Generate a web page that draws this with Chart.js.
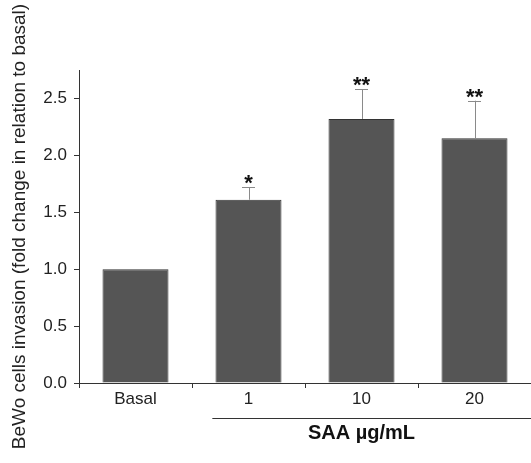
<!DOCTYPE html>
<html>
<head>
<meta charset="utf-8">
<script src="https://cdn.jsdelivr.net/npm/chart.js@4"></script>
<style>
  html, body { margin: 0; padding: 0; background: #fff; }
  #wrap { width: 531px; height: 463px; }
</style>
</head>
<body>
<div id="wrap"><canvas id="myChart" width="531" height="463"></canvas></div>
<script>
const categorias = ['Basal', '1', '10', '20'];
const medias = [1.0, 1.61, 2.32, 2.15];
const errores = [0, 0.11, 0.26, 0.33];
const estrellas = ['', '*', '**', '**'];
const yTicks = [0, 0.5, 1.0, 1.5, 2.0, 2.5];
const grupoTexto = 'SAA \u00b5g/mL';
const ejeY = 'BeWo cells invasion (fold change in relation to basal)';

const fuente = 'Arial, "Liberation Sans", sans-serif';
const ctx = document.getElementById('myChart');

// error bars, asterisks and the SAA group line below the axis
const extras = {
  id: 'extras',
  afterDatasetsDraw(chart) {
    const c = chart.ctx;
    const x = chart.scales.x, y = chart.scales.y;
    c.save();
    for (let i = 0; i < medias.length; i++) {
      const px = x.getPixelForValue(i);
      const top = y.getPixelForValue(medias[i]);
      let tope = top;
      if (errores[i] > 0) {
        tope = y.getPixelForValue(medias[i] + errores[i]);
        c.strokeStyle = '#8a8a8a';
        c.lineWidth = 1;
        c.beginPath();
        c.moveTo(Math.round(px) + 0.5, top);
        c.lineTo(Math.round(px) + 0.5, tope);
        c.moveTo(px - 6.5, Math.round(tope) + 0.5);
        c.lineTo(px + 6.5, Math.round(tope) + 0.5);
        c.stroke();
      }
      if (estrellas[i]) {
        c.fillStyle = '#111';
        c.font = 'bold 22px ' + fuente;
        c.textAlign = 'center';
        c.textBaseline = 'alphabetic';
        c.fillText(estrellas[i], px, tope + 3);
      }
    }
    // group line for SAA doses
    const ancho = x.getPixelForValue(1) - x.getPixelForValue(0);
    const x0 = x.getPixelForValue(1) - ancho * 0.32;
    const yl = Math.round(chart.chartArea.bottom + 35) + 0.5;
    c.strokeStyle = '#333';
    c.lineWidth = 1;
    c.beginPath();
    c.moveTo(x0, yl);
    c.lineTo(chart.width, yl);
    c.stroke();
    c.fillStyle = '#111';
    c.font = 'bold 20px ' + fuente;
    c.textAlign = 'center';
    c.textBaseline = 'middle';
    c.fillText(grupoTexto, x.getPixelForValue(2), yl + 15);
    c.restore();
  }
};

new Chart(ctx, {
  type: 'bar',
  data: {
    labels: categorias,
    datasets: [{
      data: medias,
      backgroundColor: '#555555',
      borderColor: '#333333',
      borderWidth: 1,
      borderSkipped: 'bottom',
      categoryPercentage: 1,
      barPercentage: 0.584
    }]
  },
  options: {
    responsive: false,
    animation: false,
    devicePixelRatio: 1,
    layout: { padding: { top: 70, right: 0, bottom: 0, left: 0 } },
    plugins: {
      legend: { display: false },
      tooltip: { enabled: false }
    },
    scales: {
      x: {
        grid: { offset: true, drawOnChartArea: false, drawTicks: true, tickLength: 5, color: '#333' },
        border: { display: true, color: '#333', width: 1 },
        ticks: { color: '#222', font: { family: fuente, size: 17 }, padding: 1 },
        afterFit(scale) { scale.height = 80; }
      },
      y: {
        min: 0,
        max: 2.75,
        grid: { drawOnChartArea: false, drawTicks: true, tickLength: 5, color: '#333' },
        border: { display: true, color: '#333', width: 1 },
        ticks: {
          color: '#222',
          font: { family: fuente, size: 17 },
          padding: 7,
          callback: v => v.toFixed(1)
        },
        afterBuildTicks(scale) { scale.ticks = yTicks.map(v => ({ value: v })); },
        title: {
          display: true,
          text: ejeY,
          color: '#222',
          font: { family: fuente, size: 19 },
          padding: { top: 8, bottom: 4 }
        },
        afterFit(scale) { scale.width = 79; }
      }
    }
  },
  plugins: [extras]
});
</script>
</body>
</html>
